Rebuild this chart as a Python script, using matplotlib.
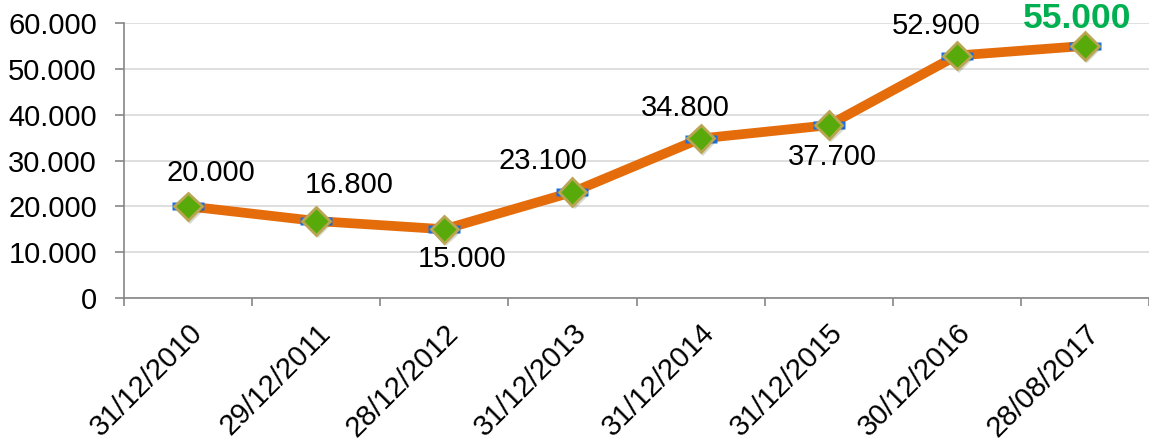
import matplotlib.pyplot as plt
import matplotlib.patheffects as pe

dates = ["31/12/2010", "29/12/2011", "28/12/2012", "31/12/2013",
         "31/12/2014", "31/12/2015", "30/12/2016", "28/08/2017"]
values = [20000, 16800, 15000, 23100, 34800, 37700, 52900, 55000]

# label offsets in pixels (dx, dy)
offsets = [(23, 33), (33, 36), (18, -30), (-29, 31), (-15, 30), (4, -32), (-21, 30), (-8, 27)]

plt.rcParams['font.family'] = ['Liberation Sans', 'DejaVu Sans']


def fmt(v):
    return f"{v:,.0f}".replace(",", ".")


fig = plt.figure(figsize=(11.49, 4.42), dpi=100)
ax = fig.add_axes([124 / 1149, 1 - 298 / 442, 1 - 124 / 1149, 275 / 442])

x = list(range(len(values)))
bar = [(-1, -0.28), (1, -0.28), (1, 0.28), (-1, 0.28), (-1, -0.28)]
ax.plot(x, values, color="#E46C0A", lw=7, zorder=3, solid_capstyle="butt")
ax.plot(x, values, ls="none", marker=bar, ms=23, mfc="#1C6FE0", mec="none", zorder=4)
ax.plot(x, values, ls="none", marker="D", ms=14, mfc="#58A90A", mec="#B9A552", mew=2,
        zorder=5, path_effects=[pe.SimplePatchShadow(offset=(1.5, -2.5), alpha=0.18), pe.Normal()])

for i, v in enumerate(values):
    last = i == len(values) - 1
    ax.annotate(fmt(v), (x[i], v), xytext=offsets[i], textcoords="offset pixels",
                ha="center", va="center", fontsize=25.5 if last else 21,
                fontweight="bold" if last else "normal",
                color="#00B050" if last else "black", zorder=6)

ax.set_xlim(-0.5, len(values) - 0.5)
ax.set_ylim(0, 60000)
ax.set_yticks(range(0, 60001, 10000))
ax.set_yticklabels([fmt(v) for v in range(0, 60001, 10000)], fontsize=21)
ax.set_xticks(x)
ax.set_xticklabels(dates, rotation=45, ha="right", rotation_mode="anchor", fontsize=21)
ax.set_xticks([i - 0.5 for i in range(len(values) + 1)], minor=True)
ax.tick_params(axis="x", which="major", length=0, pad=15)
ax.tick_params(axis="x", which="minor", length=6, color="#868686", width=1.2)
ax.tick_params(axis="y", length=6.5, color="#868686", width=1.2, pad=13)

ax.grid(axis="y", color="#D9D9D9", lw=1.2, zorder=0)
for s in ["top", "right"]:
    ax.spines[s].set_visible(False)
for s in ["left", "bottom"]:
    ax.spines[s].set_color("#868686")
    ax.spines[s].set_linewidth(1.2)

fig.savefig("out.png", dpi=100)
